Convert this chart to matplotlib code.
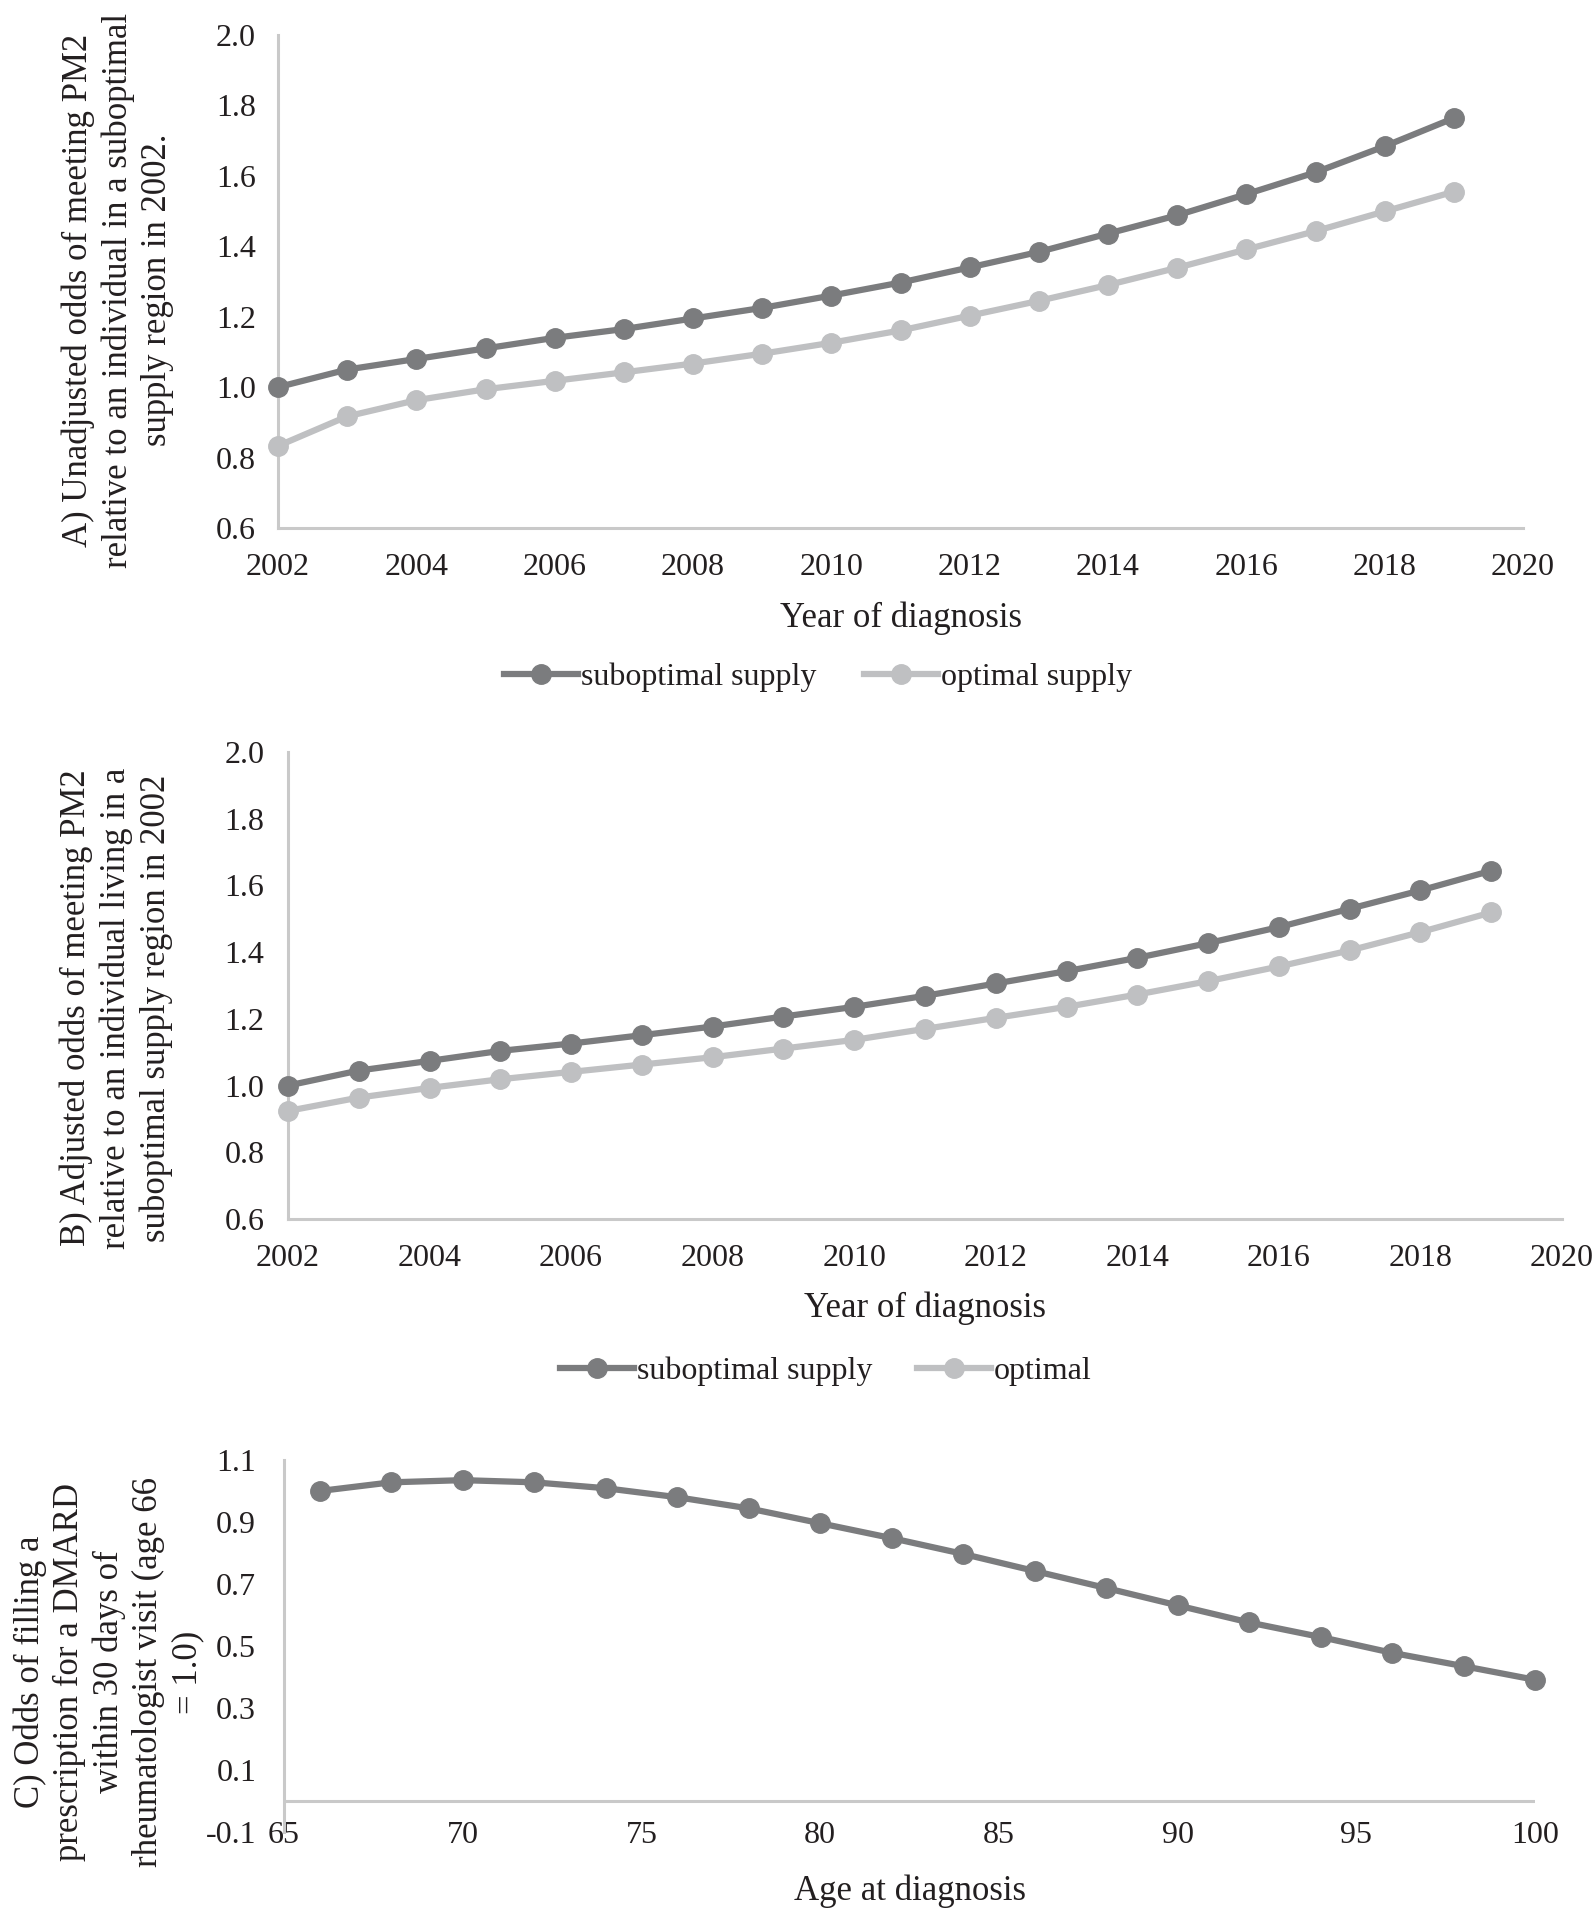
#!/usr/bin/env python3

import numpy as np
from matplotlib import pyplot as plt

plt.rcParams['font.family'] = ['Liberation Serif', 'DejaVu Serif']
plt.rcParams['text.color'] = '#231f20'
plt.rcParams['axes.labelcolor'] = '#231f20'
plt.rcParams['xtick.color'] = '#231f20'
plt.rcParams['ytick.color'] = '#231f20'

# panel A: unadjusted odds by year of diagnosis
years = list(range(2002, 2020))
a_subopt = [1.00, 1.05, 1.08, 1.11, 1.14, 1.165, 1.195, 1.225, 1.26, 1.297, 1.34,
            1.384, 1.436, 1.488, 1.548, 1.61, 1.684, 1.764]
a_opt = [0.833, 0.917, 0.963, 0.994, 1.018, 1.042, 1.067, 1.095, 1.126, 1.161, 1.203,
         1.245, 1.29, 1.339, 1.391, 1.443, 1.499, 1.555]

# panel B: adjusted odds by year of diagnosis
b_subopt = [1.00, 1.045, 1.074, 1.104, 1.126, 1.151, 1.177, 1.207, 1.236, 1.269, 1.306,
            1.343, 1.383, 1.427, 1.475, 1.53, 1.585, 1.644]
b_opt = [0.924, 0.964, 0.993, 1.019, 1.041, 1.063, 1.085, 1.111, 1.137, 1.17, 1.203,
         1.236, 1.273, 1.313, 1.357, 1.405, 1.46, 1.519]

# panel C: odds of DMARD fill by age at diagnosis
ages = list(range(66, 101, 2))
c_odds = [1.00, 1.028, 1.035, 1.028, 1.009, 0.98, 0.944, 0.896, 0.848, 0.797, 0.742,
          0.687, 0.631, 0.576, 0.529, 0.478, 0.435, 0.391]

year_ticks = list(range(2002, 2021, 2))
ab_yticks = [0.6, 0.8, 1.0, 1.2, 1.4, 1.6, 1.8, 2.0]
age_ticks = list(range(65, 101, 5))
c_yticks = [-0.1, 0.1, 0.3, 0.5, 0.7, 0.9, 1.1]

DARK = '#7b7c7e'
LIGHT = '#bfc0c2'
SPINE = '#c9c9c9'
TICK_FS = 23
LABEL_FS = 25

W, H = 1594, 1913


def frac(left, top, right, bottom):
    return [left / W, 1 - bottom / H, (right - left) / W, (bottom - top) / H]


def style(ax, ypad):
    for s in ['top', 'right']:
        ax.spines[s].set_visible(False)
    for s in ['left', 'bottom']:
        ax.spines[s].set_color(SPINE)
        ax.spines[s].set_linewidth(2.2)
    ax.tick_params(axis='both', length=0, labelsize=TICK_FS)
    ax.tick_params(axis='y', pad=ypad)


def series(ax, x, y, color, label):
    ax.plot(x, y, '-o', color=color, lw=4.5, ms=14, label=label, clip_on=False, zorder=3)


def ylabel(x, y, text):
    fig.text(x / W, 1 - y / H, text, rotation=90, ha='center', va='center',
             multialignment='center', fontsize=LABEL_FS, linespacing=1.25)


fig = plt.figure(figsize=(W / 100, H / 100), dpi=100)

# ---- A
axA = fig.add_axes(frac(278, 35, 1523, 528))
series(axA, years, a_subopt, DARK, 'suboptimal supply')
series(axA, years, a_opt, LIGHT, 'optimal supply')
axA.set_xlim(2002, 2020)
axA.set_ylim(0.6, 2.0)
axA.set_xticks(year_ticks)
axA.set_yticks(ab_yticks)
axA.set_yticklabels(['{:.1f}'.format(v) for v in ab_yticks])
style(axA, 16)
axA.tick_params(axis='x', pad=18)
axA.set_xlabel('Year of diagnosis', fontsize=LABEL_FS, va='center')
axA.xaxis.set_label_coords(0.5, -(618 - 528) / (528 - 35))
axA.legend(loc='center', bbox_to_anchor=(818 / W, 1 - 677 / H), bbox_transform=fig.transFigure,
           ncol=2, frameon=False, fontsize=TICK_FS, handlelength=2.3, handletextpad=0.1,
           columnspacing=1.5)
ylabel(118, 290, 'A) Unadjusted odds of meeting PM2\nrelative to an individual in a suboptimal\n'
                 'supply region in 2002.')

# ---- B
axB = fig.add_axes(frac(288, 752, 1562, 1219))
series(axB, years, b_subopt, DARK, 'suboptimal supply')
series(axB, years, b_opt, LIGHT, 'optimal')
axB.set_xlim(2002, 2020)
axB.set_ylim(0.6, 2.0)
axB.set_xticks(year_ticks)
axB.set_yticks(ab_yticks)
axB.set_yticklabels(['{:.1f}'.format(v) for v in ab_yticks])
style(axB, 17)
axB.tick_params(axis='x', pad=18)
axB.set_xlabel('Year of diagnosis', fontsize=LABEL_FS, va='center')
axB.xaxis.set_label_coords(0.5, -(1308 - 1219) / (1219 - 752))
axB.legend(loc='center', bbox_to_anchor=(826 / W, 1 - 1371 / H), bbox_transform=fig.transFigure,
           ncol=2, frameon=False, fontsize=TICK_FS, handlelength=2.3, handletextpad=0.1,
           columnspacing=1.4)
ylabel(116, 1008, 'B) Adjusted odds of meeting PM2\nrelative to an individual living in a\n'
                  'suboptimal supply region in 2002')

# ---- C
axC = fig.add_axes(frac(284, 1460, 1535, 1832))
axC.axhline(0, color=SPINE, lw=2.2, zorder=1)
series(axC, ages, c_odds, DARK, None)
axC.set_xlim(65, 100)
axC.set_ylim(-0.1, 1.1)
axC.set_xticks(age_ticks)
axC.set_yticks(c_yticks)
axC.set_yticklabels(['{:.1f}'.format(v) for v in c_yticks])
style(axC, 20)
axC.spines['bottom'].set_visible(False)
axC.tick_params(axis='x', pad=-8)
axC.set_xlabel('Age at diagnosis', fontsize=LABEL_FS, va='center')
axC.xaxis.set_label_coords(0.5, -(1891 - 1832) / (1832 - 1460))
ylabel(109, 1672, 'C) Odds of filling a\nprescription for a DMARD\nwithin 30 days of\n'
                  'rheumatologist visit (age 66\n= 1.0)')

fig.savefig('out.png', dpi=100)
